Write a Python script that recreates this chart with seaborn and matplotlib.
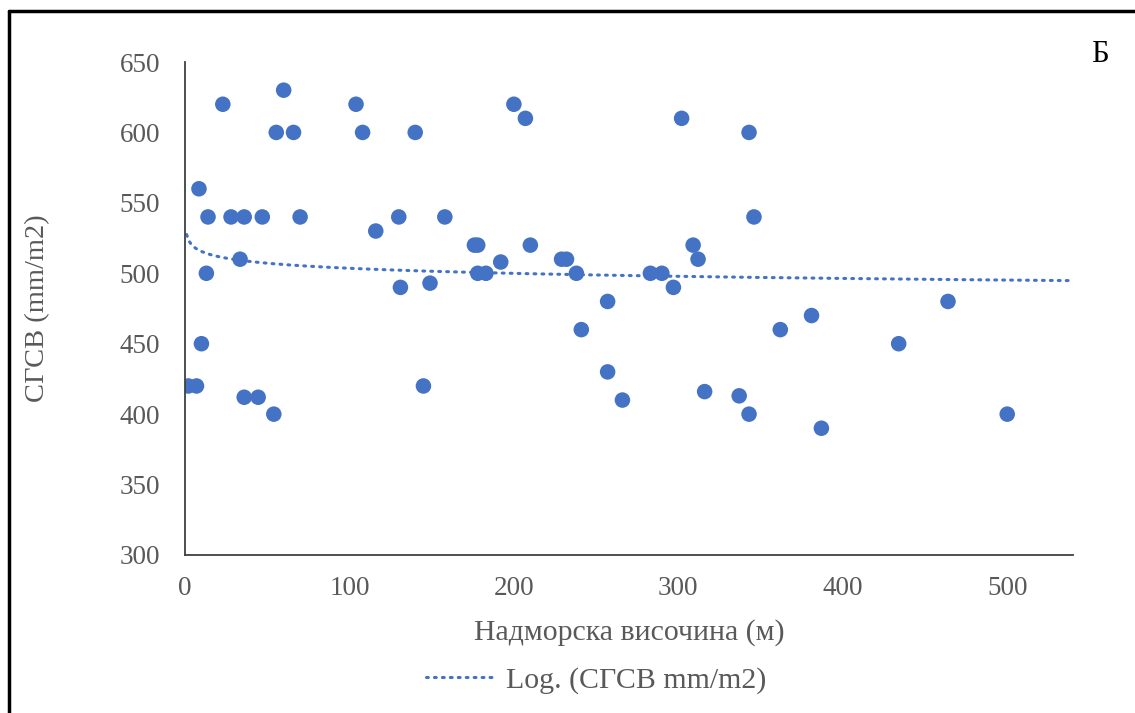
import numpy as np
import pandas as pd
import matplotlib
matplotlib.use("Agg")
import matplotlib.pyplot as plt
import seaborn as sns
from matplotlib.lines import Line2D

# Data
altitude = [2, 7, 10, 8.5, 13, 14, 23, 28, 33.5, 36, 36, 44.5, 47, 54, 55.5, 60, 66, 70,
            104, 108, 116, 130, 131, 140, 145, 149, 158, 176, 178, 178, 183, 192, 200, 207,
            210, 229, 232, 238, 241, 257, 257, 266, 283, 290, 297, 302, 309, 312, 316, 337,
            343, 343, 346, 362, 381, 387, 434, 464, 500]
sgsv = [420, 420, 450, 560, 500, 540, 620, 540, 510, 540, 412, 412, 540, 400, 600, 630, 600, 540,
        620, 600, 530, 540, 490, 600, 420, 493, 540, 520, 520, 500, 500, 508, 620, 610,
        520, 510, 510, 500, 460, 480, 430, 410, 500, 500, 490, 610, 520, 510, 416, 413,
        600, 400, 540, 460, 470, 390, 450, 480, 400]

x_ticks = [0, 100, 200, 300, 400, 500]
y_ticks = [300, 350, 400, 450, 500, 550, 600, 650]

# Logarithmic trendline y = a + b*ln(x), coefficients
trend_a = 527.5
trend_b = -5.2
trend_x_range = [1, 540]

df = pd.DataFrame({"x": altitude, "y": sgsv})
tx = np.linspace(trend_x_range[0], trend_x_range[1], 400)
trend = pd.DataFrame({"x": tx, "y": trend_a + trend_b * np.log(tx)})

sns.set_theme(style="white")
plt.rcParams["font.family"] = ["Liberation Serif", "DejaVu Serif"]

W, H = 1135, 713
fig = plt.figure(figsize=(W / 100, H / 100), dpi=100)
ax = fig.add_axes([185 / W, 1 - 555 / H, (1073 - 185) / W, (555 - 62) / H])

blue = "#4472C4"
grey = "#595959"
dots = (0, (0.6, 2.0))

sns.scatterplot(data=df, x="x", y="y", ax=ax, s=125, color=blue, edgecolor="none", legend=False)
sns.lineplot(data=trend, x="x", y="y", ax=ax, color=blue, lw=2.2, linestyle=dots,
             dash_capstyle="round", legend=False)

ax.set_xlim(0, 540)
ax.set_ylim(300, 650)
ax.set_xticks(x_ticks)
ax.set_yticks(y_ticks)
ax.tick_params(axis="both", length=0, labelsize=19.5, colors=grey)
ax.tick_params(axis="y", pad=18)
ax.tick_params(axis="x", pad=15)
for side in ["top", "right"]:
    ax.spines[side].set_visible(False)
for side in ["left", "bottom"]:
    ax.spines[side].set_color("#404040")
    ax.spines[side].set_linewidth(1.3)

ax.set_xlabel("Надморска височина (м)", fontsize=21.5, color=grey, labelpad=13)
ax.set_ylabel("СГСВ (mm/m2)", fontsize=20.5, color=grey, labelpad=50)

handle = Line2D([], [], color=blue, lw=2.2, linestyle=dots, dash_capstyle="round")
fig.legend([handle], ["Log. (СГСВ mm/m2)"], loc="center", bbox_to_anchor=(596 / W, 1 - 680 / H),
           frameon=False, fontsize=21.5, labelcolor=grey, handlelength=2.4, handletextpad=0.3)

fig.text(1100 / W, 1 - 55 / H, "Б", fontsize=22, color="black", ha="center", va="center")

# outer frame (top and left edges visible)
fig.add_artist(Line2D([9 / W, 9 / W], [0, 1 - 11 / H], transform=fig.transFigure, color="black", lw=2.5))
fig.add_artist(Line2D([9 / W, 1], [1 - 11 / H, 1 - 11 / H], transform=fig.transFigure, color="black", lw=2.5))

fig.savefig("out.png", dpi=100)
